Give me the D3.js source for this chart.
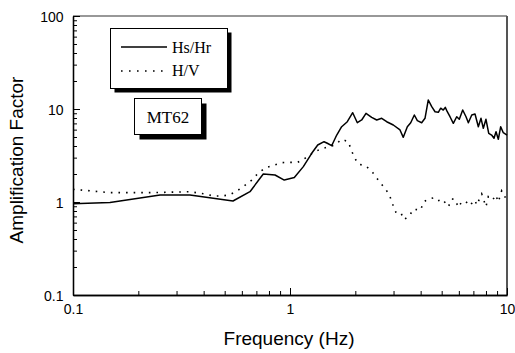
<!DOCTYPE html>
<html>
<head>
<meta charset="utf-8">
<script src="https://cdn.jsdelivr.net/npm/d3@7"></script>
<style>
  body { margin: 0; background: #fff; }
  svg { display: block; }
</style>
</head>
<body>
<svg id="chart" width="515" height="353"></svg>
<script>
// Hs/Hr (trait plein)
const hsFreq = [0.1, 0.148, 0.252, 0.346, 0.546, 0.654, 0.753, 0.853, 0.941, 1.047, 1.152, 1.259, 1.342, 1.435,
  1.486, 1.556, 1.642, 1.730, 1.837, 1.945, 2.043, 2.140, 2.240, 2.379, 2.510, 2.646, 2.790, 2.993, 3.213,
  3.327, 3.473, 3.600, 3.741, 3.862, 4.044, 4.189, 4.338, 4.499, 4.660, 4.825, 4.949, 5.084, 5.195, 5.306,
  5.462, 5.658, 5.864, 6.028, 6.250, 6.473, 6.636, 6.880, 7.122, 7.377, 7.590, 7.778, 8.000, 8.238, 8.495,
  8.711, 8.900, 9.120, 9.353, 9.614, 10.0];
const hsAmp = [0.96, 0.99, 1.19, 1.19, 1.025, 1.29, 2.0, 1.95, 1.72, 1.83, 2.40, 3.34, 4.10, 4.45,
  4.28, 4.03, 5.25, 6.45, 7.30, 9.12, 7.12, 7.62, 8.99, 8.14, 7.62, 7.94, 7.30, 6.73, 5.95,
  4.96, 6.45, 7.12, 8.62, 7.49, 7.12, 7.94, 12.5, 10.6, 9.35, 9.22, 10.2, 9.75, 10.4, 9.35,
  8.26, 7.02, 8.26, 7.75, 9.75, 8.26, 7.12, 8.62, 8.84, 6.45, 7.94, 6.20, 7.75, 5.48, 5.25,
  4.84, 5.70, 4.72, 6.45, 5.56, 5.25];

// H/V (pointillés)
const hvFreq = [0.1, 0.148, 0.226, 0.346, 0.413, 0.443, 0.484, 0.524, 0.568, 0.616, 0.666, 0.720, 0.781, 0.847,
  0.916, 1.0, 1.085, 1.173, 1.267, 1.374, 1.612, 1.730, 1.857, 1.910, 1.978, 2.064, 2.240, 2.420, 2.580,
  2.770, 2.890, 2.974, 3.077, 3.236, 3.351, 3.548, 3.701, 4.002, 4.114, 4.311, 4.610, 4.794, 5.055, 5.275,
  5.37, 5.561, 5.757, 5.966, 6.182, 6.451, 6.700, 6.88, 7.122, 7.25, 7.646, 8.0, 8.200, 8.591, 8.873,
  9.12, 9.45, 9.86, 10.0];
const hvAmp = [1.37, 1.26, 1.26, 1.29, 1.21, 1.16, 1.16, 1.19, 1.31, 1.49, 1.72, 2.09, 2.36, 2.50,
  2.65, 2.67, 2.67, 2.95, 3.34, 3.69, 4.10, 4.72, 4.45, 3.69, 3.03, 2.56, 2.44, 2.04, 1.66,
  1.36, 1.14, 0.945, 0.775, 0.775, 0.647, 0.707, 0.837, 0.820, 0.993, 1.07, 1.11, 1.03, 1.07, 0.928,
  0.890, 1.077, 1.07, 0.877, 1.0, 1.02, 0.912, 0.968, 1.05, 0.928, 1.22, 0.89, 1.14, 1.05, 1.19,
  1.0, 1.32, 1.10, 1.19];

const xMajor = [0.1, 1, 10];
const yMajor = [0.1, 1, 10, 100];
const seriesNames = ["Hs/Hr", "H/V"];
const stationName = "MT62";

const svg = d3.select("#chart");

// Zone du graphique
const plotLeft = 73, plotRight = 507, plotTop = 16, plotBottom = 295;

const x = d3.scaleLog().domain([0.1, 10]).range([plotLeft, plotRight]);
const y = d3.scaleLog().domain([0.1, 100]).range([plotBottom, plotTop]);

// Graduations secondaires (2..9 dans chaque décade)
const minor = (lo, hi) => {
  const out = [];
  for (let e = lo; e < hi; e++) {
    for (let k = 2; k <= 9; k++) out.push(k * Math.pow(10, e));
  }
  return out;
};
const fmt = d => d < 1 ? d.toFixed(1) : String(d);

const fontSans = "Liberation Sans, Arial, sans-serif";
const fontSerif = "Liberation Serif, Times New Roman, serif";

// Cadre haut et droite
svg.append("line")
  .attr("x1", plotLeft).attr("x2", plotRight).attr("y1", plotTop).attr("y2", plotTop)
  .attr("stroke", "#333").attr("stroke-width", 1.2);
svg.append("line")
  .attr("x1", plotRight).attr("x2", plotRight).attr("y1", plotTop).attr("y2", plotBottom)
  .attr("stroke", "#555").attr("stroke-width", 2);

// Axe x
svg.append("g")
  .attr("transform", `translate(0, ${plotBottom})`)
  .call(d3.axisBottom(x).tickValues(minor(-1, 1)).tickSizeInner(-4).tickSizeOuter(0).tickFormat(""));
const xAxis = svg.append("g")
  .attr("transform", `translate(0, ${plotBottom})`)
  .call(d3.axisBottom(x).tickValues(xMajor).tickSizeInner(-7).tickSizeOuter(0).tickPadding(19).tickFormat(fmt));

// Axe y
svg.append("g")
  .attr("transform", `translate(${plotLeft}, 0)`)
  .call(d3.axisLeft(y).tickValues(minor(-1, 2)).tickSizeInner(-4).tickSizeOuter(0).tickFormat(""));
const yAxis = svg.append("g")
  .attr("transform", `translate(${plotLeft}, 0)`)
  .call(d3.axisLeft(y).tickValues(yMajor).tickSizeInner(-7).tickSizeOuter(0).tickPadding(9.5).tickFormat(fmt));

svg.selectAll(".domain").attr("stroke", "#000").attr("stroke-width", 1.3);
svg.selectAll(".tick line").attr("stroke", "#000").attr("stroke-width", 1);
svg.selectAll(".tick text")
  .attr("fill", "#000")
  .style("font-family", fontSans)
  .style("font-size", "14px");
xAxis.selectAll(".tick text").attr("dy", "0");
yAxis.selectAll(".tick text").attr("dy", "0.4em");

// Titres des axes
svg.append("text")
  .attr("x", 289)
  .attr("y", 345)
  .attr("text-anchor", "middle")
  .style("font-family", fontSans)
  .style("font-size", "19px")
  .text("Frequency (Hz)");

svg.append("text")
  .attr("transform", `translate(23, 160) rotate(-90)`)
  .attr("text-anchor", "middle")
  .style("font-family", fontSans)
  .style("font-size", "19px")
  .text("Amplification Factor");

// Courbes
const line = d3.line().x(d => x(d[0])).y(d => y(d[1]));
const hs = hsFreq.map((f, i) => [f, hsAmp[i]]);
const hv = hvFreq.map((f, i) => [f, hvAmp[i]]);

svg.append("path")
  .datum(hv)
  .attr("d", line)
  .attr("fill", "none")
  .attr("stroke", "#000")
  .attr("stroke-width", 1.6)
  .attr("stroke-dasharray", "1.6,6");

svg.append("path")
  .datum(hs)
  .attr("d", line)
  .attr("fill", "none")
  .attr("stroke", "#000")
  .attr("stroke-width", 1.5)
  .attr("stroke-linejoin", "round");

// Légende avec ombre
const shadowBox = (bx, by, bw, bh, off) => {
  svg.append("rect").attr("x", bx + off).attr("y", by + off).attr("width", bw).attr("height", bh).attr("fill", "#000");
  svg.append("rect").attr("x", bx).attr("y", by).attr("width", bw).attr("height", bh)
    .attr("fill", "#fff").attr("stroke", "#000").attr("stroke-width", 1);
};

shadowBox(110.5, 28.5, 117, 60, 4);
svg.append("line").attr("x1", 121).attr("x2", 167).attr("y1", 47).attr("y2", 47)
  .attr("stroke", "#000").attr("stroke-width", 1.5);
svg.append("line").attr("x1", 121).attr("x2", 166).attr("y1", 71).attr("y2", 71)
  .attr("stroke", "#000").attr("stroke-width", 1.6).attr("stroke-dasharray", "1.6,6.4");
svg.append("text").attr("x", 172).attr("y", 53).style("font-family", fontSerif).style("font-size", "16px")
  .text(seriesNames[0]);
svg.append("text").attr("x", 172).attr("y", 76).style("font-family", fontSerif).style("font-size", "16px")
  .text(seriesNames[1]);

shadowBox(134.5, 98.5, 67, 36, 5);
svg.append("text").attr("x", 168).attr("y", 123).attr("text-anchor", "middle")
  .style("font-family", fontSerif).style("font-size", "17px")
  .text(stationName);
</script>
</body>
</html>
